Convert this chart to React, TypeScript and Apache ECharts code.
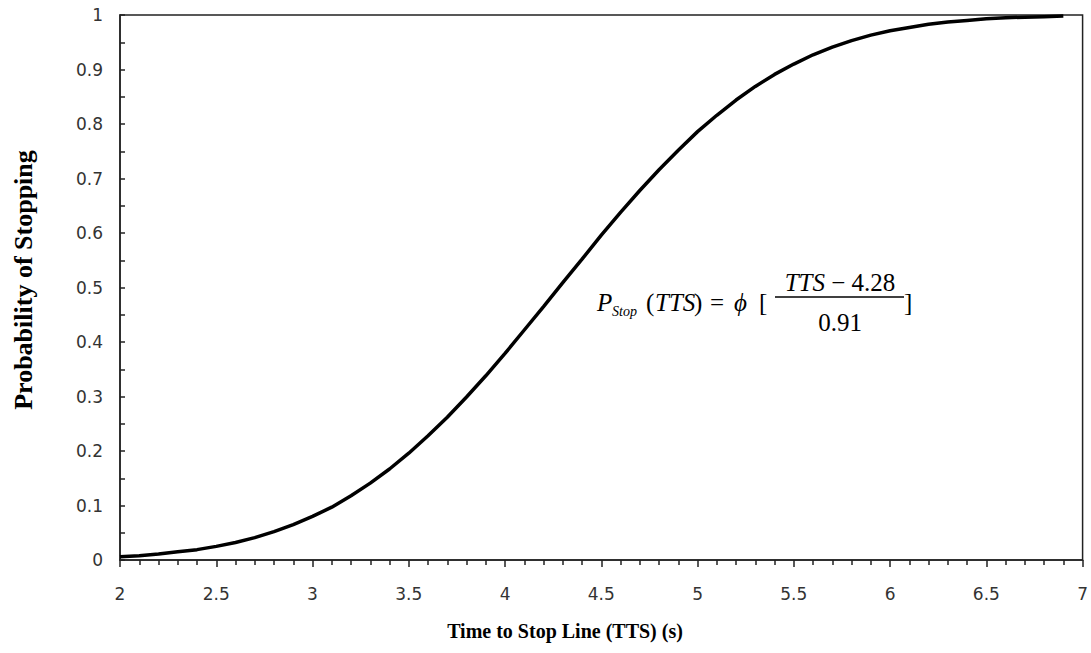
import React, { useEffect, useRef } from "react";
import * as echarts from "echarts";

const tts: number[] = [
  2.0, 2.1, 2.2, 2.3, 2.4, 2.5, 2.6, 2.7, 2.8, 2.9,
  3.0, 3.1, 3.2, 3.3, 3.4, 3.5, 3.6, 3.7, 3.8, 3.9,
  4.0, 4.1, 4.2, 4.3, 4.4, 4.5, 4.6, 4.7, 4.8, 4.9,
  5.0, 5.1, 5.2, 5.3, 5.4, 5.5, 5.6, 5.7, 5.8, 5.9,
  6.0, 6.1, 6.2, 6.3, 6.4, 6.5, 6.6, 6.7, 6.8, 6.9,
];
const pStop: number[] = [
  0.006, 0.008, 0.011, 0.015, 0.019, 0.025, 0.032, 0.041, 0.052, 0.065,
  0.080, 0.097, 0.118, 0.141, 0.167, 0.196, 0.228, 0.262, 0.299, 0.338,
  0.379, 0.422, 0.465, 0.509, 0.552, 0.596, 0.638, 0.678, 0.716, 0.752,
  0.786, 0.816, 0.844, 0.869, 0.891, 0.910, 0.927, 0.941, 0.953, 0.963,
  0.971, 0.977, 0.983, 0.987, 0.990, 0.993, 0.995, 0.996, 0.997, 0.998,
];
const xTitle = "Time to Stop Line (TTS) (s)";
const yTitle = "Probability of Stopping";

const serif = "'Liberation Serif', 'Times New Roman', serif";
const sans = "'DejaVu Sans', sans-serif";

export default function App() {
  const ref = useRef<HTMLDivElement>(null);
  useEffect(() => {
    document.body.style.margin = "0";
    if (!ref.current) return;
    const chart = echarts.init(ref.current, undefined, { renderer: "svg" });
    const eqY = 302;
    const eqFont = 25;
    const t = (text: string, x: number, y: number, font: string, extra: any = {}) => ({
      type: "text",
      x,
      y,
      style: { text, font, fill: "#000", verticalAlign: "middle", ...extra },
    });
    chart.setOption({
      animation: false,
      backgroundColor: "#fff",
      grid: { left: 120, top: 15, right: 4, bottom: 93, show: true, borderColor: "#222", borderWidth: 1.5 },
      xAxis: {
        type: "value",
        min: 2,
        max: 7,
        interval: 0.5,
        axisLine: { show: true, lineStyle: { color: "#222", width: 1.5 } },
        axisTick: { show: true, inside: false, length: 7, lineStyle: { color: "#222", width: 1.5 } },
        minorTick: { show: true, splitNumber: 5, length: 5, lineStyle: { color: "#222", width: 1.5 } },
        splitLine: { show: false },
        axisLabel: { color: "#333", fontFamily: sans, fontSize: 17, margin: 25 },
      },
      yAxis: {
        type: "value",
        min: 0,
        max: 1,
        interval: 0.1,
        axisLine: { show: true, lineStyle: { color: "#222", width: 1.5 } },
        axisTick: { show: true, inside: true, length: 5, lineStyle: { color: "#222", width: 1.5 } },
        minorTick: { show: true, splitNumber: 2, length: 5, lineStyle: { color: "#222", width: 1.5 } },
        splitLine: { show: false },
        axisLabel: {
          color: "#333",
          fontFamily: sans,
          fontSize: 17,
          margin: 17,
          formatter: (v: number) => String(Math.round(v * 10) / 10),
        },
      },
      series: [
        {
          type: "line",
          data: tts.map((x, i) => [x, pStop[i]]),
          showSymbol: false,
          symbol: "none",
          lineStyle: { color: "#000", width: 3.5 },
          smooth: false,
        },
      ],
      graphic: [
        t(xTitle, 565, 631, `bold 20px ${serif}`, { align: "center" }),
        {
          type: "text",
          x: 23,
          y: 280,
          rotation: Math.PI / 2,
          style: { text: yTitle, font: `bold 26px ${serif}`, fill: "#000", align: "center", verticalAlign: "middle" },
        },
        t("P", 597, eqY, `italic ${eqFont}px ${serif}`),
        t("Stop", 612, eqY + 9, `italic 14px ${serif}`),
        t("(", 646, eqY, `${eqFont}px ${serif}`),
        t("TTS", 655, eqY, `italic ${eqFont}px ${serif}`),
        t(")", 694, eqY, `${eqFont}px ${serif}`),
        t("=", 710, eqY, `${eqFont}px ${serif}`),
        t("ϕ", 734, eqY, `italic ${eqFont}px ${serif}`),
        t("[", 759, eqY, `${eqFont}px ${serif}`),
        {
          type: "text",
          x: 840,
          y: 282,
          style: {
            text: "{i|TTS}{n| − 4.28}",
            align: "center",
            verticalAlign: "middle",
            rich: {
              i: { font: `italic ${eqFont}px ${serif}`, fill: "#000" },
              n: { font: `${eqFont}px ${serif}`, fill: "#000" },
            },
          },
        },
        { type: "line", shape: { x1: 775, y1: 297, x2: 904, y2: 297 }, style: { stroke: "#000", lineWidth: 1.3 } },
        t("0.91", 840, 322, `${eqFont}px ${serif}`, { align: "center" }),
        t("]", 904, eqY, `${eqFont}px ${serif}`),
      ],
    });
    return () => chart.dispose();
  }, []);
  return <div ref={ref} style={{ width: 1091, height: 653 }} />;
}
